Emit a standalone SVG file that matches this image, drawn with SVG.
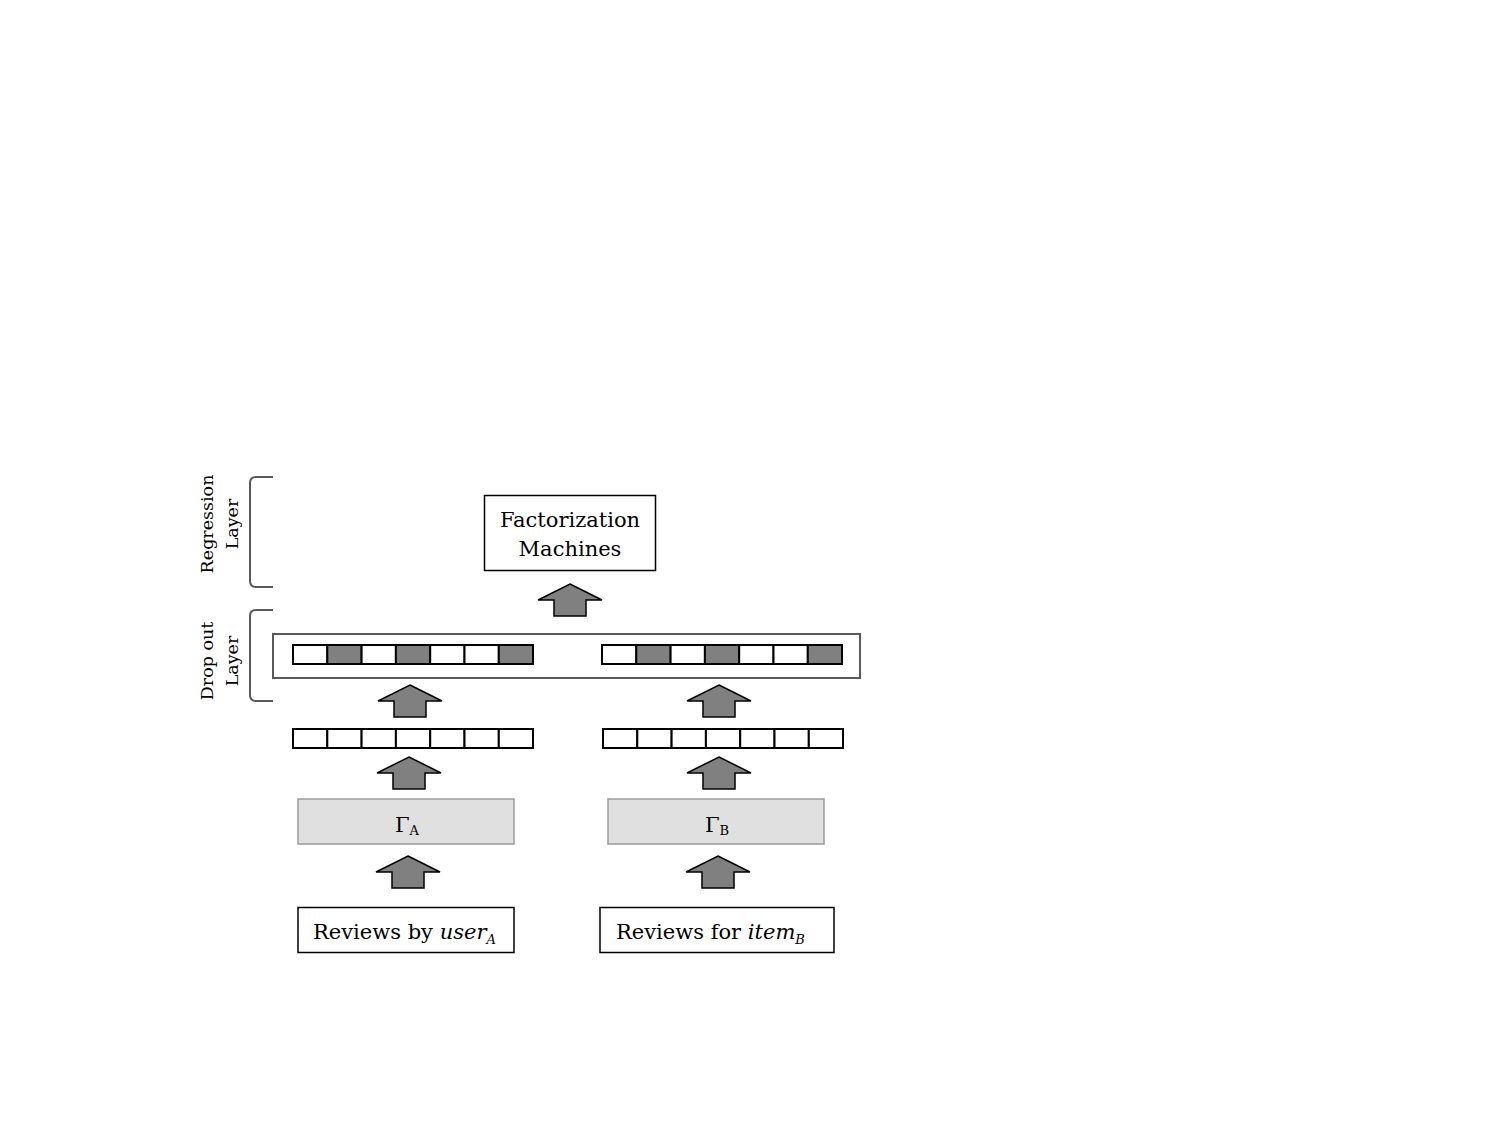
<svg xmlns="http://www.w3.org/2000/svg" width="1500" height="1125" viewBox="0 0 1500 1125">
<style>
.t{font-family:"DejaVu Serif","Liberation Serif",serif;fill:#000}
.box{fill:#fff;stroke:#000;stroke-width:1.5}
.gam{fill:#e0e0e0;stroke:#9a9a9a;stroke-width:1.5}
.cell{fill:#fff;stroke:#000;stroke-width:2}
.dark{fill:#808080;stroke:#000;stroke-width:2}
.arr{fill:#808080;stroke:#000;stroke-width:1.5;stroke-linejoin:miter}
.br{fill:none;stroke:#595959;stroke-width:2}
</style>
<defs>
<path id="up" class="arr" d="M0,0 L32,16 L16,16 L16,32 L-16,32 L-16,16 L-32,16 Z"/>
<g id="vec">
<rect class="cell" x="0" y="0" width="34.3" height="19"/>
<rect class="cell" x="34.3" y="0" width="34.3" height="19"/>
<rect class="cell" x="68.6" y="0" width="34.3" height="19"/>
<rect class="cell" x="102.9" y="0" width="34.3" height="19"/>
<rect class="cell" x="137.2" y="0" width="34.3" height="19"/>
<rect class="cell" x="171.5" y="0" width="34.3" height="19"/>
<rect class="cell" x="205.8" y="0" width="34.2" height="19"/>
</g>
<g id="dvec">
<rect class="cell" x="0" y="0" width="34.3" height="19"/>
<rect class="dark" x="34.3" y="0" width="34.3" height="19"/>
<rect class="cell" x="68.6" y="0" width="34.3" height="19"/>
<rect class="dark" x="102.9" y="0" width="34.3" height="19"/>
<rect class="cell" x="137.2" y="0" width="34.3" height="19"/>
<rect class="cell" x="171.5" y="0" width="34.3" height="19"/>
<rect class="dark" x="205.8" y="0" width="34.2" height="19"/>
</g>
</defs>
<rect width="1500" height="1125" fill="#fff"/>

<g id="labels">
<path class="br" d="M273,477 L256,477 Q250,477 250,483 L250,581 Q250,587 256,587 L273,587"/>
<path class="br" d="M273,610 L256,610 Q250,610 250,616 L250,695 Q250,701 256,701 L273,701"/>
<text class="t" font-size="17.5" text-anchor="middle" transform="translate(213,524) rotate(-90)">Regression</text>
<text class="t" font-size="17.5" text-anchor="middle" transform="translate(238,524) rotate(-90)">Layer</text>
<text class="t" font-size="17.5" text-anchor="middle" transform="translate(213,661) rotate(-90)">Drop out</text>
<text class="t" font-size="17.5" text-anchor="middle" transform="translate(238,661) rotate(-90)">Layer</text>
</g>

<g id="fm">
<rect class="box" x="484.5" y="495.5" width="171" height="75"/>
<text class="t" font-size="21" text-anchor="middle" x="570" y="527">Factorization</text>
<text class="t" font-size="21" text-anchor="middle" x="570" y="556">Machines</text>
</g>

<g id="dropout">
<rect fill="#fff" stroke="#595959" stroke-width="2" x="273" y="634" width="587" height="44"/>
<use href="#dvec" x="293" y="645"/>
<use href="#dvec" x="602" y="645"/>
</g>

<g id="vecA"><use href="#vec" x="293" y="729"/></g>
<g id="vecB"><use href="#vec" x="603" y="729"/></g>

<g id="gammaA">
<rect class="gam" x="298" y="799" width="216" height="45"/>
<text class="t" font-size="21" x="395" y="832">Γ<tspan font-size="13" dy="3">A</tspan></text>
</g>
<g id="gammaB">
<rect class="gam" x="608" y="799" width="216" height="45"/>
<text class="t" font-size="21" x="705" y="832">Γ<tspan font-size="13" dy="3">B</tspan></text>
</g>

<g id="revA">
<rect class="box" x="298" y="907.5" width="216" height="45"/>
<text class="t" font-size="21" x="313" y="939">Reviews by <tspan font-style="italic">user</tspan><tspan font-style="italic" font-size="13" dy="5">A</tspan></text>
</g>
<g id="revB">
<rect class="box" x="600" y="907.5" width="234" height="45"/>
<text class="t" font-size="21" x="616" y="939">Reviews for <tspan font-style="italic">item</tspan><tspan font-style="italic" font-size="13" dy="5">B</tspan></text>
</g>

<g id="connectors">
<use href="#up" x="570" y="584"/>
<use href="#up" x="410" y="685"/>
<use href="#up" x="719" y="685"/>
<use href="#up" x="409" y="757"/>
<use href="#up" x="719" y="757"/>
<use href="#up" x="408" y="856"/>
<use href="#up" x="718" y="856"/>
</g>
</svg>
